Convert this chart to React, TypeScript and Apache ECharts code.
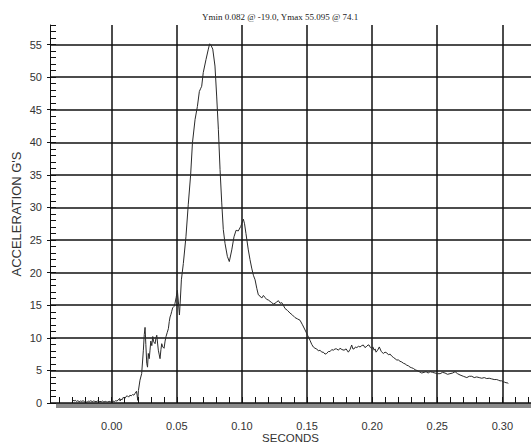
import React, { useEffect, useRef } from "react";
import * as echarts from "echarts";

const TITLE = "Ymin 0.082 @ -19.0, Ymax 55.095 @ 74.1";
const X_NAME = "SECONDS";
const Y_NAME = "ACCELERATION G'S";

const X_MIN = -0.0474;
const X_MAX = 0.322;
const Y_MIN = 0;
const Y_MAX = 58;

const X_MAJOR = [0, 0.05, 0.1, 0.15, 0.2, 0.25, 0.3];
const X_MINOR = [
  -0.04, -0.03, -0.02, -0.01, 0, 0.01, 0.02, 0.03, 0.04, 0.05, 0.06, 0.07, 0.08, 0.09, 0.1,
  0.11, 0.12, 0.13, 0.14, 0.15, 0.16, 0.17, 0.18, 0.19, 0.2, 0.21, 0.22, 0.23, 0.24, 0.25,
  0.26, 0.27, 0.28, 0.29, 0.3, 0.31, 0.32,
];
const Y_MINOR = [
  0, 1, 2, 3, 4, 5, 6, 7, 8, 9, 10, 11, 12, 13, 14, 15, 16, 17, 18, 19, 20, 21, 22, 23, 24, 25,
  26, 27, 28, 29, 30, 31, 32, 33, 34, 35, 36, 37, 38, 39, 40, 41, 42, 43, 44, 45, 46, 47, 48, 49,
  50, 51, 52, 53, 54, 55, 56, 57, 58,
];

// time (s)
const TIME = [
  -0.03, -0.029, -0.028, -0.027, -0.026, -0.025, -0.024, -0.023, -0.022, -0.021, -0.02, -0.019,
  -0.018, -0.017, -0.016, -0.015, -0.014, -0.013, -0.012, -0.011, -0.01, -0.009, -0.008, -0.007,
  -0.006, -0.005, -0.004, -0.003, -0.002, -0.001, 0.0, 0.001, 0.002, 0.003, 0.004, 0.005, 0.006,
  0.0065, 0.007, 0.008, 0.009, 0.01, 0.011, 0.012, 0.013, 0.014, 0.015, 0.016, 0.017, 0.018,
  0.019, 0.0195, 0.02, 0.0205, 0.0217, 0.023, 0.0243, 0.025, 0.0256, 0.0262, 0.0269, 0.0275,
  0.0281, 0.0288, 0.0294, 0.03, 0.0308, 0.0315, 0.0322, 0.0333, 0.034, 0.0346, 0.0352, 0.0358,
  0.0364, 0.0371, 0.0378, 0.0384, 0.0392, 0.0402, 0.041, 0.0417, 0.0426, 0.0435, 0.0442, 0.0448,
  0.0455, 0.046, 0.0468, 0.0478, 0.0486, 0.0495, 0.0504, 0.0512, 0.052, 0.0527, 0.0535, 0.055,
  0.057, 0.0588, 0.0606, 0.062, 0.064, 0.0658, 0.0673, 0.0684, 0.0691, 0.0703, 0.0724, 0.0742,
  0.0752, 0.076, 0.0776, 0.0793, 0.0806, 0.0819, 0.0832, 0.0845, 0.0857, 0.087, 0.0888, 0.0903,
  0.0922, 0.0939, 0.0955, 0.0972, 0.0991, 0.1011, 0.102, 0.1031, 0.1049, 0.1062, 0.1075, 0.1088,
  0.1101, 0.1114, 0.1126, 0.1139, 0.1152, 0.1165, 0.1177, 0.119, 0.1203, 0.1216, 0.1229, 0.1241,
  0.1254, 0.1267, 0.128, 0.1293, 0.1306, 0.1318, 0.1331, 0.135, 0.1369, 0.1388, 0.1408, 0.1427,
  0.1446, 0.1465, 0.1485, 0.1504, 0.1523, 0.1536, 0.1548, 0.1561, 0.1574, 0.1587, 0.16, 0.1613,
  0.1625, 0.1638, 0.1651, 0.1664, 0.1677, 0.169, 0.1702, 0.1715, 0.1728, 0.1741, 0.1753, 0.1768,
  0.1784, 0.18, 0.1817, 0.183, 0.1843, 0.1852, 0.1861, 0.1872, 0.1882, 0.1895, 0.1907, 0.192,
  0.1932, 0.1945, 0.1959, 0.1968, 0.1976, 0.1987, 0.1997, 0.2006, 0.2015, 0.2023, 0.203, 0.2042,
  0.2055, 0.207, 0.2086, 0.2099, 0.2112, 0.2125, 0.2138, 0.215, 0.2163, 0.2176, 0.2189, 0.2202,
  0.2214, 0.2227, 0.224, 0.2253, 0.2266, 0.2279, 0.2291, 0.2304, 0.2317, 0.233, 0.2343, 0.2362,
  0.2381, 0.2398, 0.2414, 0.243, 0.2445, 0.2464, 0.2483, 0.2502, 0.2522, 0.2541, 0.256, 0.2579,
  0.2598, 0.2618, 0.2637, 0.2656, 0.2675, 0.27, 0.2727, 0.2746, 0.2765, 0.2784, 0.2803, 0.2822,
  0.2842, 0.2861, 0.288, 0.2899, 0.2918, 0.2937, 0.2957, 0.297, 0.2982, 0.2995, 0.3008, 0.3018,
  0.3028, 0.3037, 0.3046,
];

// acceleration (G)
const ACCEL = [
  0.5, 0.3, 0.4, 0.25, 0.35, 0.2, 0.3, 0.25, 0.35, 0.2, 0.25, 0.08,
  0.3, 0.25, 0.35, 0.2, 0.3, 0.25, 0.2, 0.3, 0.15, 0.25, 0.2, 0.3,
  0.15, 0.25, 0.2, 0.15, 0.25, 0.2, 0.15, 0.3, 0.2, 0.35, 0.3, 0.45, 0.7,
  0.3, 0.6, 0.5, 0.9, 0.7, 1.0, 1.1, 0.9, 1.2, 1.1, 1.3, 1.2, 1.5,
  1.8, 1.2, 0.4, 1.9, 3.5, 4.5, 8.1, 10.5, 11.6, 9.0, 6.1, 5.5,
  7.6, 6.8, 8.1, 9.5, 8.8, 10.2, 9.4, 9.1, 10.0, 10.4, 9.2, 8.1,
  7.5, 6.8, 8.2, 9.1, 8.6, 8.4, 9.5, 10.2, 10.8, 11.4, 12.5, 13.2,
  13.6, 14.0, 14.6, 14.8, 15.3, 16.2, 17.3, 15.5, 13.5, 15.8, 18.9, 21.4,
  25.5, 30.5, 35.0, 39.9, 43.5, 45.5, 47.8, 48.3, 48.6, 50.7, 52.7, 54.3,
  55.1, 55.0, 54.3, 51.7, 47.1, 42.0, 35.8, 30.7, 26.6, 24.5, 22.5, 21.7,
  23.5, 25.5, 26.5, 26.4, 27.1, 28.2, 27.5, 26.0, 23.5, 22.0, 20.7, 19.6,
  18.9, 17.6, 16.6, 16.4, 16.1, 16.5, 16.2, 15.9, 15.8, 15.6, 15.4, 15.2,
  15.3, 15.5, 15.7, 15.3, 15.4, 15.0, 14.5, 14.2, 13.8, 13.5, 13.1, 12.9,
  12.7, 12.0, 11.2, 10.4, 9.6, 9.0, 8.6, 8.4, 8.3, 8.0, 8.1, 7.8,
  7.8, 7.5, 7.6, 7.9, 7.9, 8.2, 8.1, 8.3, 8.3, 8.1, 8.4, 8.2,
  8.1, 8.3, 7.8, 8.2, 8.9, 8.3, 8.3, 8.6, 8.5, 8.7, 8.6, 8.8,
  8.9, 8.5, 8.7, 8.9, 8.9, 8.5, 8.4, 8.6, 8.1, 8.3, 7.8, 8.1,
  8.6, 7.9, 7.6, 7.8, 7.7, 7.4, 7.5, 7.2, 7.0, 6.8, 6.6, 6.6,
  6.4, 6.3, 6.1, 6.0, 5.8, 5.7, 5.5, 5.4, 5.3, 5.1, 5.0, 4.8,
  4.6, 4.7, 4.8, 4.6, 4.8, 4.7, 4.6, 4.5, 4.5, 4.7, 4.6, 4.4,
  4.5, 4.6, 4.8, 4.5, 4.3, 4.1, 3.9, 4.1, 4.1, 3.9, 4.0, 3.9,
  3.8, 3.9, 3.75, 3.8, 3.7, 3.6, 3.6, 3.5, 3.4, 3.4, 3.2, 3.2,
  3.1, 3.1, 3.0,
];

const FONT = "'Liberation Sans', Arial, sans-serif";

export default function App() {
  const ref = useRef<HTMLDivElement>(null);
  useEffect(() => {
    if (!ref.current) return;
    const chart = echarts.init(ref.current, null, { renderer: "svg" });
    const data = TIME.map((t, i) => [t, ACCEL[i]]);
    chart.setOption({
      animation: false,
      backgroundColor: "#ffffff",
      title: {
        text: TITLE,
        left: 197,
        top: 7,
        textStyle: {
          fontSize: 9,
          fontWeight: "normal",
          fontFamily: "'Liberation Serif', 'Times New Roman', serif",
          color: "#222",
        },
      },
      grid: {
        left: 50,
        right: 0,
        top: 25,
        bottom: 43,
        containLabel: false,
        outerBoundsMode: "none",
      },
      xAxis: [
        {
          type: "value",
          min: X_MIN,
          max: X_MAX,
          position: "bottom",
          axisLine: { show: false, onZero: false },
          axisTick: { show: false, customValues: X_MAJOR },
          axisLabel: {
            customValues: X_MAJOR,
            formatter: (v: number) => v.toFixed(2),
            margin: 17,
            fontSize: 11,
            fontFamily: FONT,
            color: "#333",
          },
          splitLine: { show: true, lineStyle: { color: "#111", width: 1.5 } },
          name: X_NAME,
          nameLocation: "middle",
          nameMoveOverlap: false,
          nameGap: 29,
          nameTextStyle: { fontSize: 11.5, lineHeight: 12, fontFamily: FONT, color: "#333" },
        },
        {
          type: "value",
          min: X_MIN,
          max: X_MAX,
          position: "bottom",
          axisLine: { show: false, onZero: false },
          axisLabel: { show: false },
          splitLine: { show: false },
          axisTick: {
            show: true,
            inside: true,
            length: 6,
            customValues: X_MINOR,
            lineStyle: { color: "#111", width: 1 },
          },
        },
      ],
      yAxis: [
        {
          type: "value",
          min: Y_MIN,
          max: Y_MAX,
          interval: 5,
          position: "left",
          axisLine: { show: true, onZero: false, lineStyle: { color: "#111", width: 1 } },
          axisTick: { show: true, inside: false, length: 3, lineStyle: { color: "#111" } },
          axisLabel: {
            formatter: (v: number) => (v % 5 === 0 ? String(v) : ""),
            showMaxLabel: false,
            margin: 8,
            fontSize: 11,
            fontFamily: FONT,
            color: "#333",
          },
          splitLine: { show: true, showMaxLine: false, lineStyle: { color: "#111", width: 1.5 } },
          name: Y_NAME,
          nameLocation: "middle",
          nameMoveOverlap: false,
          nameGap: 27,
          nameTextStyle: { fontSize: 13, fontFamily: FONT, color: "#333" },
        },
        {
          type: "value",
          min: Y_MIN,
          max: Y_MAX,
          position: "left",
          axisLine: { show: false, onZero: false },
          axisLabel: { show: false },
          splitLine: { show: false },
          axisTick: {
            show: true,
            inside: true,
            length: 6,
            customValues: Y_MINOR,
            lineStyle: { color: "#111", width: 1 },
          },
        },
      ],
      graphic: [
        {
          type: "rect",
          left: 56,
          top: 403,
          shape: { width: 475, height: 5 },
          style: { fill: "#8a8a8a" },
          z: 0,
        },
      ],
      series: [
        {
          type: "line",
          xAxisIndex: 0,
          yAxisIndex: 0,
          data,
          showSymbol: false,
          symbol: "none",
          lineStyle: { color: "#2a2a2a", width: 1 },
          z: 3,
        },
      ],
    });
    return () => chart.dispose();
  }, []);
  return <div ref={ref} style={{ width: 531, height: 446, position: "absolute", left: 0, top: 0 }} />;
}
